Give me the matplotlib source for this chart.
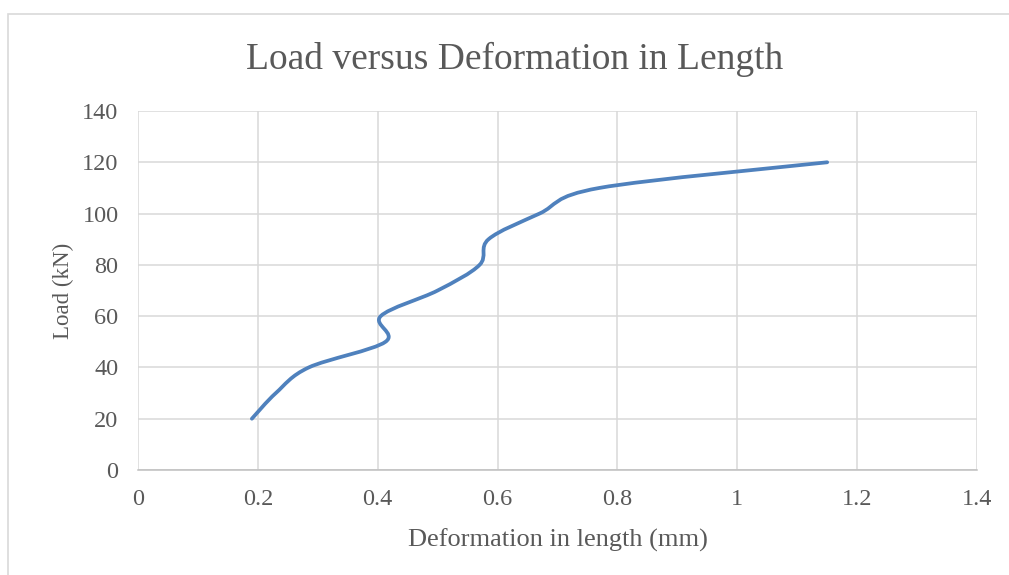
import numpy as np
import matplotlib.pyplot as plt
from matplotlib.path import Path
from matplotlib.patches import PathPatch, Rectangle

# Load versus deformation, Excel-style smoothed line

deformation = [0.19, 0.23, 0.285, 0.413, 0.405, 0.50, 0.57, 0.585, 0.67, 0.77, 1.15]
load = [20, 30, 40, 50, 60, 70, 80, 90, 100, 110, 120]
x_ticks = [0, 0.2, 0.4, 0.6, 0.8, 1, 1.2, 1.4]
x_ticklabels = ['0', '0.2', '0.4', '0.6', '0.8', '1', '1.2', '1.4']
y_ticks = [0, 20, 40, 60, 80, 100, 120, 140]

GREY = '#595959'
plt.rcParams['font.family'] = ['Liberation Serif', 'DejaVu Serif']


def smooth_path(xs, ys):
    # cubic bezier through each point, control points like Excel's smoothing
    p = np.column_stack([xs, ys]).astype(float)
    n = len(p)
    verts = [p[0]]
    codes = [Path.MOVETO]
    for i in range(n - 1):
        p0 = p[i - 1] if i > 0 else p[i]
        p1 = p[i]
        p2 = p[i + 1]
        p3 = p[i + 2] if i + 2 < n else p[i + 1]
        c1 = p1 + (p2 - p0) / 6.0
        c2 = p2 - (p3 - p1) / 6.0
        verts += [c1, c2, p2]
        codes += [Path.CURVE4] * 3
    return Path(verts, codes)


fig = plt.figure(figsize=(10.09, 5.75), dpi=100)
ax = fig.add_axes([138 / 1009, 1 - 470 / 575, (977 - 138) / 1009, (470 - 111) / 575])

ax.add_patch(PathPatch(smooth_path(deformation, load), fill=False,
                       edgecolor='#4f81bd', lw=2.7, capstyle='round', joinstyle='round', zorder=3))

ax.set_xlim(0, 1.4)
ax.set_ylim(0, 140)
ax.set_xticks(x_ticks)
ax.set_xticklabels(x_ticklabels)
ax.set_yticks(y_ticks)
ax.grid(True, color='#d9d9d9', lw=1.1)
ax.set_axisbelow(True)
for s in ['top', 'right', 'left']:
    ax.spines[s].set_visible(False)
ax.spines['bottom'].set_color('#bfbfbf')
ax.spines['bottom'].set_linewidth(1.1)
ax.tick_params(length=0, labelsize=17.5, labelcolor=GREY)
ax.tick_params(axis='x', pad=14)
ax.tick_params(axis='y', pad=14)

fig.text(514.5 / 1009, 1 - 59 / 575, 'Load versus Deformation in Length',
         fontsize=27, color=GREY, ha='center', va='center')
ax.set_xlabel('Deformation in length (mm)', fontsize=19, color=GREY, labelpad=13)
ax.set_ylabel('Load (kN)', fontsize=16.5, color=GREY, labelpad=6)

# outer chart border (only left and top visible in the crop)
fig.patches.append(Rectangle((8 / 1009, -0.1), 1.2, 1.1 - 14 / 575, transform=fig.transFigure,
                             fill=False, edgecolor='#d9d9d9', lw=1.2, clip_on=False))

fig.savefig('out.png', dpi=100, facecolor='white')
